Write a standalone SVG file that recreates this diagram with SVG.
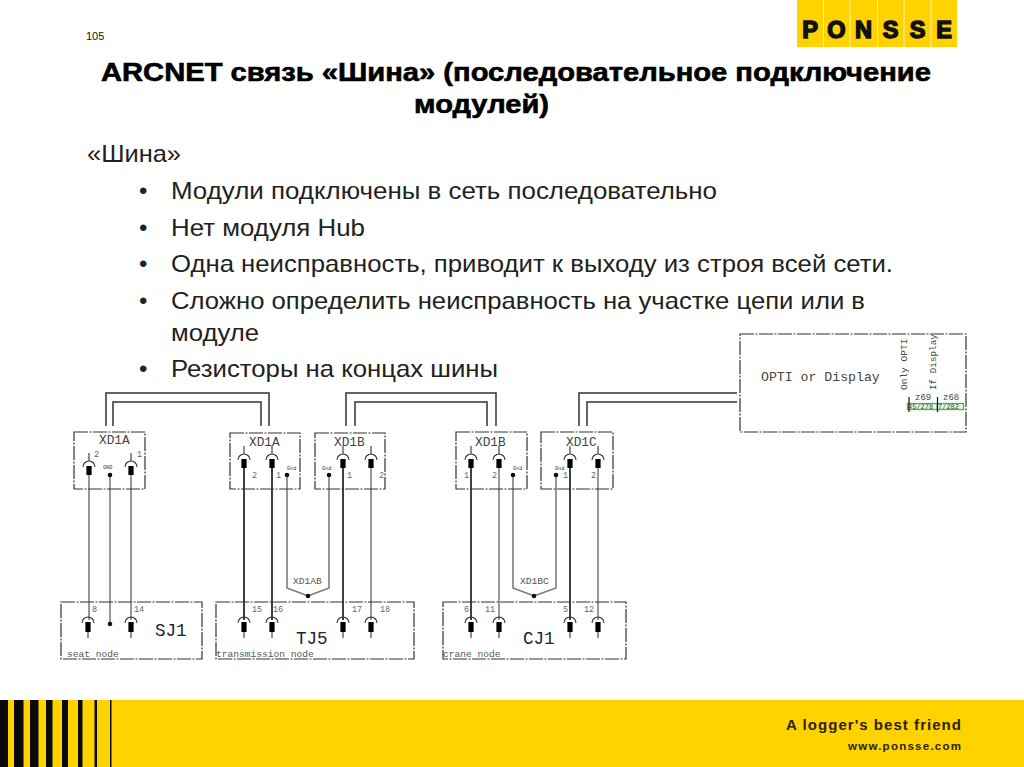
<svg xmlns="http://www.w3.org/2000/svg" xmlns:xlink="http://www.w3.org/1999/xlink" width="1024" height="767" viewBox="0 0 1024 767">
<style>
text{font-family:"Liberation Sans",Arial,sans-serif}
.t{font-size:25.5px;font-weight:bold;fill:#000;stroke:#000;stroke-width:.6}
.b{font-size:24px;fill:#222}
.m{font-family:"Liberation Mono","Courier New",monospace;fill:#444}
.box{fill:none;stroke:#333;stroke-width:1.2;stroke-dasharray:14 1.5 2 1.5}
.k{fill:none;stroke:#111;stroke-width:1.6}
.g{fill:none;stroke:#777;stroke-width:1.5}
.bus{fill:none;stroke:#333;stroke-width:1.5}
.x{font-size:12.8px}.n{font-size:8.5px;fill:#666}.l{font-size:9.6px;fill:#555}.d{font-size:5.2px;fill:#333}.c{font-size:17.6px;fill:#223}
</style>
<defs>
<g id="pinT"><path d="M0-14V-6M-6 0A6 6 0 0 1 6 0" fill="none" stroke="#333" stroke-width="1.100"/><rect x="-2.600" y="-1" width="5.200" height="9" fill="#000"/></g>
<g id="pinB"><path d="M-6 0A6 6 0 0 1 6 0M0 8V15" fill="none" stroke="#333" stroke-width="1.100"/><rect x="-2.600" y="-1" width="5.200" height="10" fill="#000"/></g>
</defs>
<rect width="1024" height="767" fill="#fff"/>
<g id="logo"><rect x="797" y="0" width="160" height="47" fill="#FFD200"/>
<path d="M823.500 0V47M850 0V47M877.500 0V47M904 0V47M931 0V47" stroke="#FFF2B0" stroke-width="1"/>
<g font-family="Liberation Sans" font-weight="900" font-size="23.500" fill="#111" stroke="#111" stroke-width="1.500" text-anchor="middle"><text x="810" y="38">P</text><text x="836.500" y="38">O</text><text x="863.500" y="38">N</text><text x="890.500" y="38">S</text><text x="917.500" y="38">S</text><text x="944" y="38">E</text></g></g>
<g id="footer"><rect y="700" width="1024" height="67" fill="#FFD200"/>
<path d="M0 700h8v67H0zM14 700h9.500v67H14zM30 700h8.500v67H30zM46 700h6.500v67H46zM62 700h6v67H62zM78 700h4.500v67H78zM94.500 700h2.500v67h-2.500zM110 700h1.500v67H110z" fill="#0a0a0a"/>
<text x="786" y="730" textLength="175" font-size="15" font-weight="bold" fill="#2b2200">A logger's best friend</text>
<text x="848" y="750" textLength="113" font-size="11.500" font-weight="bold" fill="#2b2200">www.ponsse.com</text></g>
<text x="86" y="40" font-size="11" fill="#111">105</text>
<text class="t" x="101" y="81" textLength="830" lengthAdjust="spacingAndGlyphs">ARCNET связь «Шина» (последовательное подключение</text>
<text class="t" x="414" y="113" textLength="135" lengthAdjust="spacingAndGlyphs">модулей)</text>
<g id="body"><text class="b" x="87" y="162" textLength="94" lengthAdjust="spacingAndGlyphs">«Шина»</text>
<text class="b" x="139" y="199">•</text><text class="b" x="171" y="199" textLength="546" lengthAdjust="spacingAndGlyphs">Модули подключены в сеть последовательно</text>
<text class="b" x="139" y="236">•</text><text class="b" x="171" y="236" textLength="194" lengthAdjust="spacingAndGlyphs">Нет модуля Hub</text>
<text class="b" x="139" y="272">•</text><text class="b" x="171" y="272" textLength="722" lengthAdjust="spacingAndGlyphs">Одна неисправность, приводит к выходу из строя всей сети.</text>
<text class="b" x="139" y="309">•</text><text class="b" x="171" y="309" textLength="694" lengthAdjust="spacingAndGlyphs">Сложно определить неисправность на участке цепи или в</text>
<text class="b" x="171" y="341" textLength="88" lengthAdjust="spacingAndGlyphs">модуле</text>
<text class="b" x="139" y="377">•</text><text class="b" x="171" y="377" textLength="327" lengthAdjust="spacingAndGlyphs">Резисторы на концах шины</text></g>
<g id="connectors">
<path class="bus" d="M106 426V393H269V426M113 426V402H261V426M346 426V393H496V426M355 426V402H487V426M579 426V393H737M587 426V402H737"/>
<path class="g" d="M89 470V620M110 475V624M131 470V620"/>
<path class="k" d="M244 465V620M272 465V620M343 465V620"/>
<path class="g" d="M371 465V620"/>
<path class="k" d="M471 465V620"/><path class="g" d="M499 465V620"/><path class="k" d="M570 465V620"/><path class="g" d="M598 465V620"/>
<path class="g" stroke-width="1" d="M287 475V588L308 596L329 588V475M513 475V588L534 596L556 588V475"/>
<g fill="#111"><circle cx="110" cy="475" r="2.300"/><circle cx="110" cy="624" r="2.300"/><circle cx="287" cy="475" r="2.300"/><circle cx="329" cy="475" r="2.300"/><circle cx="308" cy="596" r="2.300"/><circle cx="513" cy="475" r="2.300"/><circle cx="556" cy="475" r="2.300"/><circle cx="534" cy="596" r="2.300"/></g>
</g>
<g id="XD1A-left"><rect class="box" x="74" y="432" width="71" height="57"/><text class="m x" x="99" y="444">XD1A</text>
<use xlink:href="#pinT" href="#pinT" x="89" y="467"/><use xlink:href="#pinT" href="#pinT" x="131" y="467"/>
<text class="m n" x="94" y="457">2</text><text class="m n" x="137" y="457">1</text><text class="m d" x="103" y="469">GND</text></g>
<g id="XD1A-mid"><rect class="box" x="230" y="433" width="70" height="56"/><text class="m x" x="249" y="446">XD1A</text>
<use xlink:href="#pinT" href="#pinT" x="244" y="460"/><use xlink:href="#pinT" href="#pinT" x="272" y="460"/>
<text class="m n" x="252" y="478">2</text><text class="m n" x="276" y="478">1</text><text class="m d" x="287" y="470">Gnd</text></g>
<g id="XD1B-mid"><rect class="box" x="315" y="433" width="70" height="56"/><text class="m x" x="334" y="446">XD1B</text>
<use xlink:href="#pinT" href="#pinT" x="343" y="460"/><use xlink:href="#pinT" href="#pinT" x="371" y="460"/>
<text class="m n" x="347" y="478">1</text><text class="m n" x="379" y="478">2</text><text class="m d" x="322" y="470">Gnd</text></g>
<g id="XD1B-right"><rect class="box" x="456" y="432" width="71" height="57"/><text class="m x" x="475" y="446">XD1B</text>
<use xlink:href="#pinT" href="#pinT" x="471" y="460"/><use xlink:href="#pinT" href="#pinT" x="499" y="460"/>
<text class="m n" x="464" y="478">1</text><text class="m n" x="492" y="478">2</text><text class="m d" x="513" y="470">Gnd</text></g>
<g id="XD1C"><rect class="box" x="541" y="432" width="72" height="57"/><text class="m x" x="566" y="446">XD1C</text>
<use xlink:href="#pinT" href="#pinT" x="570" y="460"/><use xlink:href="#pinT" href="#pinT" x="598" y="460"/>
<text class="m n" x="563" y="478">1</text><text class="m n" x="591" y="478">2</text><text class="m d" x="555" y="470">Gnd</text></g>
<g id="SJ1"><rect class="box" x="61" y="602" width="141" height="57"/>
<use xlink:href="#pinB" href="#pinB" x="88" y="623"/><use xlink:href="#pinB" href="#pinB" x="131" y="623"/>
<text class="m n" x="92" y="612">8</text><text class="m n" x="134" y="612">14</text><text class="m c" x="155" y="636">SJ1</text><text class="m l" x="67" y="657">seat node</text></g>
<g id="TJ5"><rect class="box" x="216" y="602" width="198" height="57"/>
<use xlink:href="#pinB" href="#pinB" x="244" y="623"/><use xlink:href="#pinB" href="#pinB" x="272" y="623"/><use xlink:href="#pinB" href="#pinB" x="343" y="623"/><use xlink:href="#pinB" href="#pinB" x="371" y="623"/>
<text class="m n" x="252" y="612">15</text><text class="m n" x="273" y="612">16</text><text class="m n" x="352" y="612">17</text><text class="m n" x="380" y="612">18</text><text class="m c" x="296" y="644">TJ5</text><text class="m l" x="216" y="657">transmission node</text><text class="m l" x="293" y="584">XD1AB</text></g>
<g id="CJ1"><rect class="box" x="443" y="602" width="183" height="57"/>
<use xlink:href="#pinB" href="#pinB" x="471" y="623"/><use xlink:href="#pinB" href="#pinB" x="499" y="623"/><use xlink:href="#pinB" href="#pinB" x="570" y="623"/><use xlink:href="#pinB" href="#pinB" x="598" y="623"/>
<text class="m n" x="464" y="612">6</text><text class="m n" x="485" y="612">11</text><text class="m n" x="563" y="612">5</text><text class="m n" x="584" y="612">12</text><text class="m c" x="523" y="644">CJ1</text><text class="m l" x="443" y="657">crane node</text><text class="m l" x="520" y="584">XD1BC</text></g>
<g id="OPTI"><rect class="box" x="740" y="334" width="226" height="98"/>
<text class="m" x="761" y="381" font-size="13.200">OPTI or Display</text>
<text class="m" font-size="9.500" transform="translate(907 390) rotate(-90)">Only OPTI</text>
<text class="m" font-size="9.300" transform="translate(936 390) rotate(-90)">If Display</text>
<text class="m" x="915" y="400" font-size="9">z69</text><text class="m" x="943" y="400" font-size="9">z68</text>
<rect x="907.500" y="403.500" width="56" height="6" fill="#e9f9e9" stroke="#2fc43a" stroke-width="1.300"/><path d="M937 403.500V409.500" stroke="#2fc43a"/>
<text class="m" x="908" y="409" font-size="7">45/278</text><text class="m" x="938" y="409" font-size="7">7/282</text>
<path d="M909 397V412M937.500 397V412" stroke="#111" stroke-width="1.200"/></g>
</svg>
